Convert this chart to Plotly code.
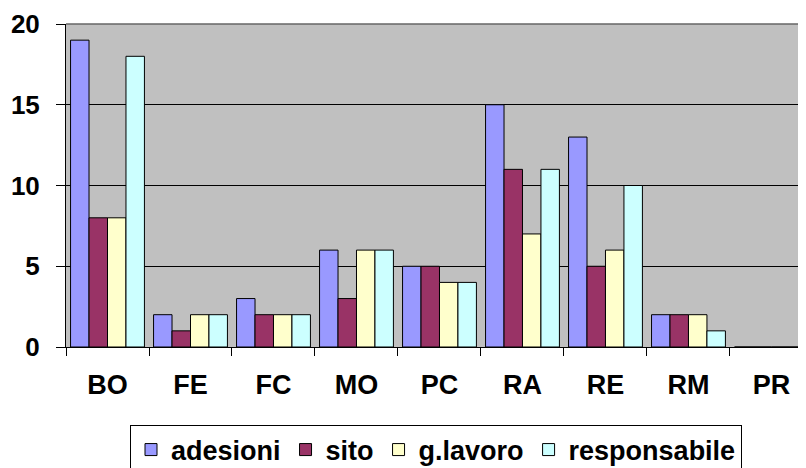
import plotly.graph_objects as go

categories = ["BO", "FE", "FC", "MO", "PC", "RA", "RE", "RM", "PR"]
adesioni = [19, 2, 3, 6, 5, 15, 13, 2, 0]
sito = [8, 1, 2, 3, 5, 11, 5, 2, 0]
g_lavoro = [8, 2, 2, 6, 4, 7, 6, 2, 0]
responsabile = [18, 2, 2, 6, 4, 11, 10, 1, 0]

series = [
    ("adesioni", adesioni, "#9999FF"),
    ("sito", sito, "#993366"),
    ("g.lavoro", g_lavoro, "#FFFFCC"),
    ("responsabile", responsabile, "#CCFFFF"),
]

font_family = "Arial, Liberation Sans, sans-serif"

fig = go.Figure()
for name, vals, color in series:
    fig.add_trace(go.Bar(
        x=categories, y=vals, name=name,
        marker=dict(color=color, line=dict(color="black", width=1)),
    ))

# page body has an 8px margin, so the figure is sized/offset to compensate
fig.update_layout(
    width=798, height=460,
    margin=dict(l=58, r=0, t=16, b=121, autoexpand=False),
    paper_bgcolor="white",
    plot_bgcolor="#C0C0C0",
    barmode="group",
    bargap=0.11,
    bargroupgap=0,
    font=dict(family=font_family, size=26, color="black"),
    showlegend=True,
    legend=dict(
        orientation="h",
        x=0.5, xanchor="center",
        y=-0.24, yanchor="top",
        bordercolor="black", borderwidth=1,
        bgcolor="white",
        font=dict(family=font_family, size=27, color="black", weight="bold"),
        itemwidth=30,
        tracegroupgap=0,
    ),
    xaxis=dict(
        range=[-0.5, 8.416],
        showgrid=False,
        ticks="outside", ticklen=8, tickcolor="black",
        tickson="boundaries",
        showline=True, linecolor="black", linewidth=1,
        tickfont=dict(family=font_family, size=27, weight="bold"),
        ticklabelstandoff=14,
        zeroline=False,
    ),
    yaxis=dict(
        range=[0, 20],
        tickvals=[0, 5, 10, 15, 20],
        showgrid=True, gridcolor="black", gridwidth=1,
        ticks="outside", ticklen=9, tickcolor="black",
        showline=True, linecolor="black", linewidth=1,
        tickfont=dict(family=font_family, size=26, weight="bold"),
        ticklabelstandoff=11,
        zeroline=False,
    ),
)

fig.add_shape(type="line", xref="paper", yref="paper", x0=0, x1=1, y0=1, y1=1,
              line=dict(color="#666666", width=1.5))

fig.write_html("out.html")
